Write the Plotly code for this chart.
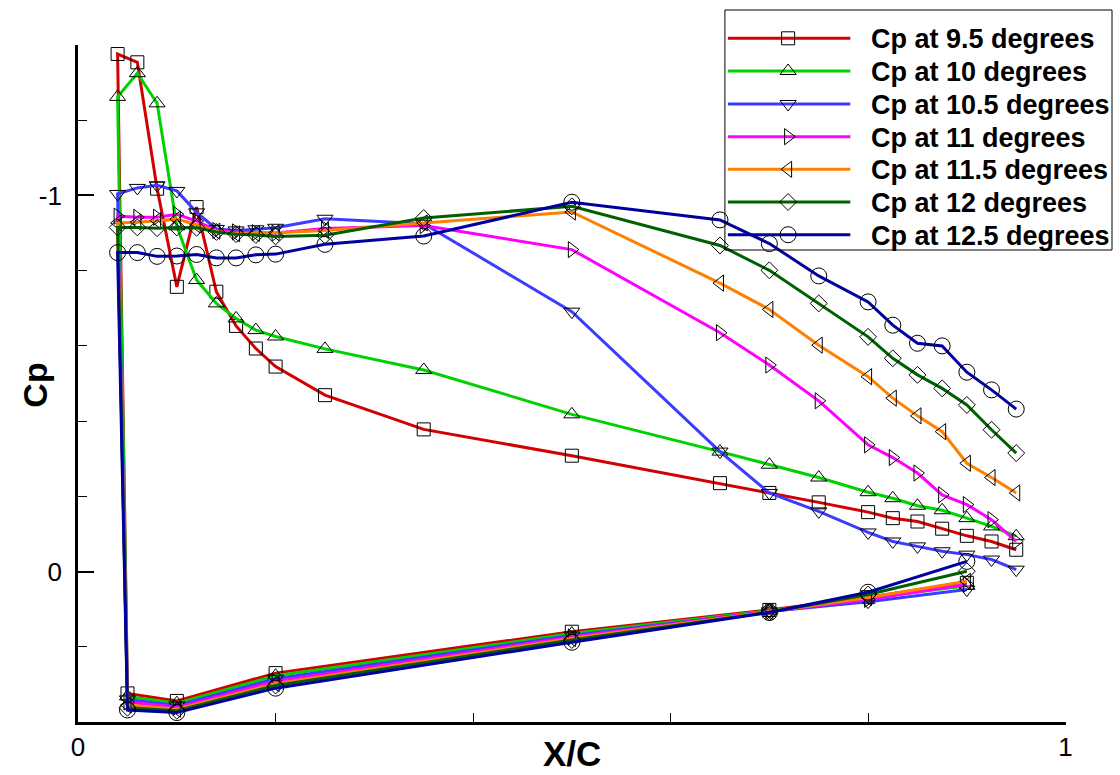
import plotly.graph_objects as go

# ---------------- data ----------------
x_upper = [0.04, 0.06, 0.08, 0.10, 0.12, 0.14, 0.16, 0.18, 0.20, 0.25, 0.35, 0.50,
           0.65, 0.70, 0.75, 0.80, 0.825, 0.85, 0.875, 0.90, 0.925, 0.95]
x_lower = [0.05, 0.10, 0.20, 0.50, 0.70, 0.80, 0.90]

names = ["Cp at 9.5 degrees", "Cp at 10 degrees", "Cp at 10.5 degrees", "Cp at 11 degrees",
         "Cp at 11.5 degrees", "Cp at 12 degrees", "Cp at 12.5 degrees"]

cp_upper_95 = [-1.376, -1.354, -1.018, -0.757, -0.969, -0.744, -0.653, -0.593, -0.545, -0.469, -0.378, -0.308,
               -0.235, -0.209, -0.184, -0.158, -0.142, -0.133, -0.114, -0.095, -0.080, -0.058]
cp_upper_10 = [-1.262, -1.325, -1.245, -0.918, -0.775, -0.713, -0.673, -0.642, -0.625, -0.592, -0.536, -0.418,
               -0.319, -0.284, -0.250, -0.211, -0.195, -0.175, -0.163, -0.142, -0.120, -0.094]
cp_upper_105 = [-1.004, -1.020, -1.027, -1.012, -0.955, -0.911, -0.907, -0.910, -0.914, -0.938, -0.925, -0.691,
                -0.319, -0.209, -0.160, -0.104, -0.080, -0.067, -0.054, -0.045, -0.032, -0.005]
cp_upper_11 = [-0.945, -0.942, -0.942, -0.950, -0.932, -0.907, -0.903, -0.901, -0.900, -0.912, -0.920, -0.856,
               -0.635, -0.549, -0.454, -0.337, -0.303, -0.262, -0.204, -0.178, -0.138, -0.080]
cp_upper_115 = [-0.927, -0.929, -0.933, -0.937, -0.922, -0.905, -0.898, -0.899, -0.901, -0.907, -0.927, -0.956,
                -0.767, -0.697, -0.602, -0.518, -0.461, -0.414, -0.372, -0.288, -0.250, -0.209]
cp_upper_12 = [-0.915, -0.915, -0.913, -0.915, -0.914, -0.903, -0.897, -0.895, -0.891, -0.894, -0.940, -0.971,
               -0.867, -0.801, -0.713, -0.624, -0.567, -0.523, -0.487, -0.443, -0.377, -0.315]
cp_upper_125 = [-0.848, -0.848, -0.838, -0.839, -0.843, -0.834, -0.834, -0.842, -0.844, -0.870, -0.892, -0.982,
                -0.935, -0.872, -0.786, -0.717, -0.655, -0.607, -0.600, -0.530, -0.483, -0.432]

cp_lower_95 = [0.324, 0.344, 0.270, 0.160, 0.102, 0.068, 0.030]
cp_lower_10 = [0.332, 0.350, 0.277, 0.165, 0.104, 0.071, 0.038]
cp_lower_105 = [0.340, 0.356, 0.285, 0.170, 0.106, 0.080, 0.048]
cp_lower_11 = [0.347, 0.361, 0.292, 0.174, 0.106, 0.074, 0.034]
cp_lower_115 = [0.355, 0.366, 0.298, 0.178, 0.107, 0.069, 0.026]
cp_lower_12 = [0.362, 0.370, 0.303, 0.182, 0.108, 0.061, -0.001]
cp_lower_125 = [0.368, 0.375, 0.310, 0.188, 0.109, 0.055, -0.027]

uppers = [cp_upper_95, cp_upper_10, cp_upper_105, cp_upper_11, cp_upper_115, cp_upper_12, cp_upper_125]
lowers = [cp_lower_95, cp_lower_10, cp_lower_105, cp_lower_11, cp_lower_115, cp_lower_12, cp_lower_125]

x_ticks = [0, 1]
x_tick_text = ["0", "1"]
y_ticks = [-1, 0]
y_tick_text = ["-1", "0"]

# ---------------- styles ----------------
colors = ["#d20000", "#00d200", "#3c3cff", "#ff00ff", "#ff8000", "#006000", "#0000a0"]
symbols = ["square-open", "triangle-up-open", "triangle-down-open", "triangle-right-open",
           "triangle-left-open", "diamond-open", "circle-open"]
msizes = [13, 14, 14, 14, 14, 13, 16]
FONT = "Liberation Sans, Arial, Helvetica, sans-serif"

W, H = 1120, 775
L, R, T, B = 72, 1072, 45, 722

fig = go.Figure()

for i in range(len(names)):
    xs = x_lower[::-1] + x_upper
    ys = lowers[i][::-1] + uppers[i]
    fig.add_trace(go.Scatter(
        x=xs, y=ys, mode="lines+markers", name=names[i],
        line=dict(color=colors[i], width=3),
        marker=dict(symbol=symbols[i], size=msizes[i], color="black", line=dict(width=1, color="black")),
        xaxis="x", yaxis="y", showlegend=False, cliponaxis=False))

# ---------------- custom legend (pixel overlay axes) ----------------
leg_y = [38.3, 71.0, 104.0, 136.7, 169.3, 202.0, 234.7]
for i in range(len(names)):
    fig.add_trace(go.Scatter(x=[730, 854], y=[leg_y[i], leg_y[i]], mode="lines",
                             line=dict(color=colors[i], width=3), xaxis="x2", yaxis="y2",
                             showlegend=False, hoverinfo="skip"))
    fig.add_trace(go.Scatter(x=[791], y=[leg_y[i]], mode="markers",
                             marker=dict(symbol=symbols[i], size=msizes[i], color="black",
                                         line=dict(width=1, color="black")),
                             xaxis="x2", yaxis="y2", showlegend=False, hoverinfo="skip"))
    fig.add_annotation(x=873, y=leg_y[i] + 1, xref="x2", yref="y2", text=names[i],
                       showarrow=False, xanchor="left", yanchor="middle",
                       font=dict(family=FONT, size=27, color="black", weight="bold"))

fig.add_shape(type="rect", x0=727, y0=10, x1=1119, y1=250, xref="x2", yref="y2",
              line=dict(color="black", width=1), fillcolor="rgba(0,0,0,0)")

# axis titles
fig.add_annotation(x=572, y=753, xref="x2", yref="y2", text="X/C", showarrow=False,
                   xanchor="center", yanchor="middle",
                   font=dict(family=FONT, size=35, color="black", weight="bold"))
fig.add_annotation(x=28, y=385, xref="x2", yref="y2", text="Cp", showarrow=False, textangle=-90,
                   xanchor="center", yanchor="middle",
                   font=dict(family=FONT, size=34, color="black", weight="bold"))

fig.update_layout(
    width=W, height=H, margin=dict(l=0, r=0, t=0, b=0),
    paper_bgcolor="white", plot_bgcolor="rgba(0,0,0,0)", showlegend=False,
    xaxis=dict(domain=[L / W, R / W], range=[0, 1], anchor="y",
               tickvals=x_ticks, ticktext=x_tick_text, ticks="inside", ticklen=16, tickwidth=2,
               tickcolor="black", showline=True, linewidth=3, linecolor="black",
               showgrid=False, zeroline=False, ticklabelstandoff=0,
               tickfont=dict(family=FONT, size=26, color="black"),
               minor=dict(tickvals=[0.2, 0.4, 0.6, 0.8], ticks="inside", ticklen=9, tickwidth=1,
                          tickcolor="black", showgrid=False)),
    yaxis=dict(domain=[1 - B / H, 1 - T / H], range=[0.4, -1.4], anchor="x",
               tickvals=y_ticks, ticktext=y_tick_text, ticks="inside", ticklen=16, tickwidth=2,
               tickcolor="black", showline=True, linewidth=3, linecolor="black",
               showgrid=False, zeroline=False, ticklabelstandoff=8,
               tickfont=dict(family=FONT, size=26, color="black"),
               minor=dict(tickvals=[-1.4, -1.2, -0.8, -0.6, -0.4, -0.2, 0.2], ticks="inside",
                          ticklen=9, tickwidth=1, tickcolor="black", showgrid=False)),
    xaxis2=dict(domain=[0, 1], range=[0, W], anchor="y2", visible=False, fixedrange=True),
    yaxis2=dict(domain=[0, 1], range=[H, 0], anchor="x2", visible=False, fixedrange=True),
)

fig.write_html("out.html")
